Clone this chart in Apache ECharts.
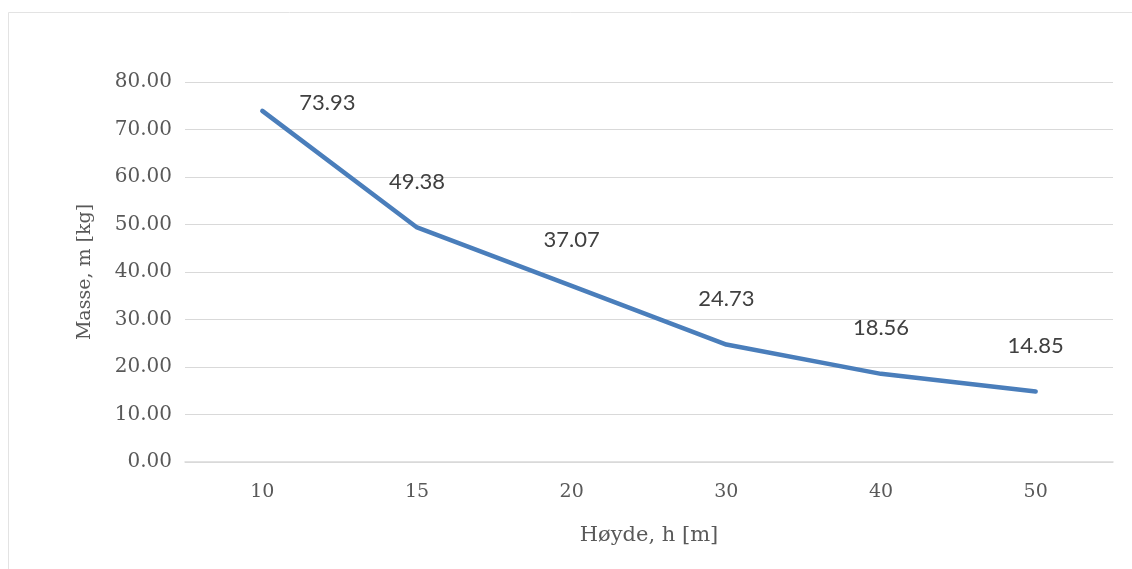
<!DOCTYPE html>
<html>
<head>
<meta charset="utf-8">
<title>Masse mot høyde</title>
<script src="https://cdn.jsdelivr.net/npm/echarts@6/dist/echarts.min.js"></script>
<style>
  html, body { margin: 0; padding: 0; background: #fff; }
  #chart { width: 1132px; height: 569px; }
</style>
</head>
<body>
<div id="chart"></div>
<script>
// Height categories (m) and computed mass (kg)
const heights = ['10', '15', '20', '30', '40', '50'];
const masses = [73.93, 49.38, 37.07, 24.73, 18.56, 14.85];
const yTicks = { min: 0, max: 80, step: 10 };

const chart = echarts.init(document.getElementById('chart'));

const labelFont = 'Lato, Liberation Sans, Arial, sans-serif';
const axisFont = 'DejaVu Serif, Liberation Serif, serif';

chart.setOption({
  animation: false,
  backgroundColor: '#ffffff',
  graphic: [{
    type: 'rect',
    shape: { x: 8.5, y: 12.5, width: 1200, height: 700 },
    style: { fill: 'none', stroke: '#e3e3e3', lineWidth: 1 },
    silent: true
  }],
  grid: { left: 185, right: 19, top: 82, bottom: 107, containLabel: false },
  xAxis: {
    type: 'category',
    data: heights,
    boundaryGap: true,
    name: 'Høyde, h [m]',
    nameLocation: 'middle',
    nameGap: 63,
    nameTextStyle: { fontFamily: axisFont, fontSize: 21, color: '#595959' },
    axisLine: { show: true, lineStyle: { color: '#d9d9d9', width: 1.5 } },
    axisTick: { show: false },
    axisLabel: { fontFamily: axisFont, fontSize: 19, color: '#595959', margin: 21 },
    splitLine: { show: false }
  },
  yAxis: {
    type: 'value',
    min: yTicks.min,
    max: yTicks.max,
    interval: yTicks.step,
    name: 'Masse, m [kg]',
    nameLocation: 'middle',
    nameGap: 90,
    nameRotate: 90,
    nameTextStyle: { fontFamily: axisFont, fontSize: 19, color: '#595959' },
    axisLine: { show: false },
    axisTick: { show: false },
    axisLabel: {
      fontFamily: axisFont, fontSize: 20, color: '#595959', margin: 13,
      formatter: v => v.toFixed(2)
    },
    splitLine: { lineStyle: { color: '#d9d9d9', width: 1 } }
  },
  series: [{
    type: 'line',
    data: masses.map((v, i) => i === 0
      ? { value: v, label: { position: 'right', distance: 36, offset: [0, -8] } }
      : { value: v }),
    symbol: 'circle',
    symbolSize: 2,
    showSymbol: true,
    itemStyle: { color: 'rgba(74,126,187,0)', borderWidth: 0 },
    lineStyle: { color: '#4a7ebb', width: 4.5, cap: 'round', join: 'round' },
    label: {
      show: true,
      position: 'top',
      distance: 34,
      fontFamily: labelFont,
      fontSize: 22,
      color: '#404040',
      formatter: p => p.value.toFixed(2)
    }
  }]
});
</script>
</body>
</html>
